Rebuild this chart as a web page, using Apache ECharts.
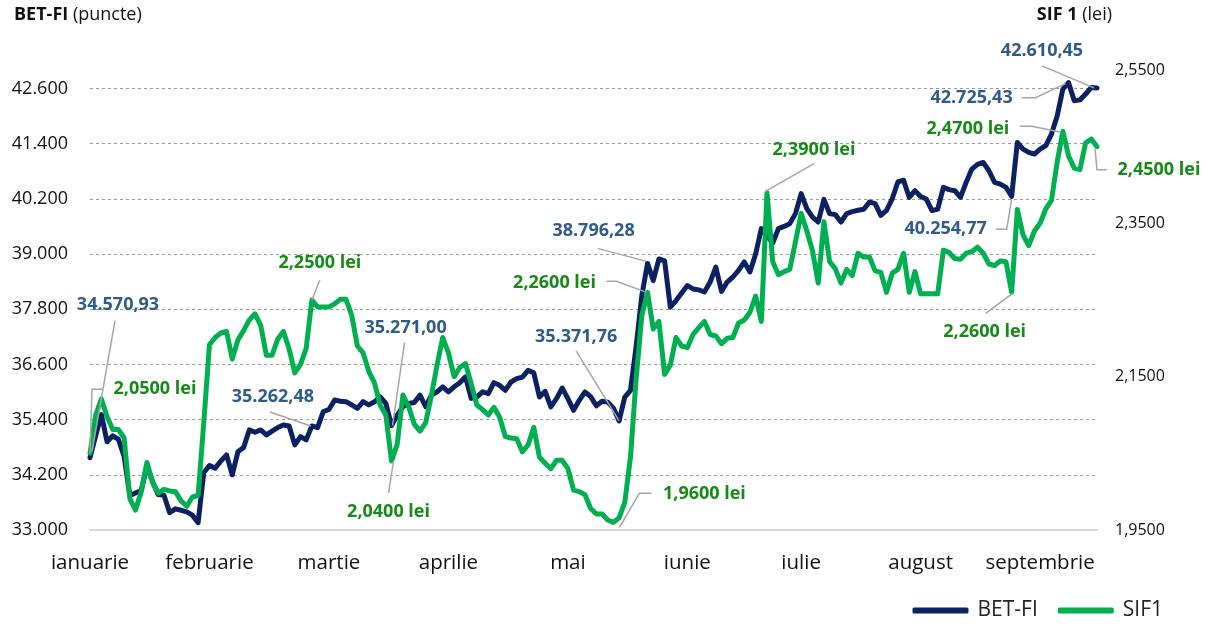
<!DOCTYPE html>
<html>
<head>
<meta charset="utf-8">
<title>BET-FI si SIF1</title>
<script src="https://cdn.jsdelivr.net/npm/echarts@6/dist/echarts.min.js"></script>
<style>
  html, body { margin: 0; padding: 0; background: #fff; }
  #chart { width: 1218px; height: 625px; }
</style>
</head>
<body>
<div id="chart"></div>
<script>
// Months on the x axis and the trading day on which each label sits
var months = ['ianuarie', 'februarie', 'martie', 'aprilie', 'mai', 'iunie', 'iulie', 'august', 'septembrie'];
var monthStart = [0, 21, 42, 63, 84, 105, 125, 146, 167];

// BET-FI (puncte), one value per trading day
var betfi = [
  34570.93, 35050, 35508, 34919, 35048, 34969, 34600, 33750, 33805, 33850,
  34400, 34050, 33769, 33754, 33374, 33460, 33430, 33395, 33323, 33158,
  34250, 34400, 34345, 34500, 34634, 34200, 34700, 34793, 35176, 35125,
  35176, 35067, 35150, 35226, 35284, 35262, 34851, 35031, 34959, 35262.48,
  35226, 35573, 35620, 35826, 35800, 35790, 35720, 35646, 35790, 35720,
  35787, 35896, 35751, 35271.00, 35498, 35679, 35751, 35770, 35932, 35679,
  35932, 36004, 36113, 36004, 36113, 36200, 36330, 35860, 35896, 36004,
  35964, 36202, 36145, 36036, 36217, 36289, 36325, 36470, 36419, 35891,
  36014, 35675, 35855, 36087, 35855, 35602, 35819, 36000, 35900, 35700,
  35800, 35780, 35650, 35371.76, 35891, 36036, 37000, 38100, 38796.28, 38422,
  38892, 38850, 37843, 37988, 38150, 38313, 38241, 38220, 38174, 38391,
  38717, 38188, 38391, 38500, 38645, 38826, 38609, 39000, 39551, 39400,
  39240, 39551, 39600, 39660, 39878, 40313, 39986, 39800, 39696, 40189,
  39878, 39856, 39696, 39878, 39920, 39950, 39972, 40131, 40095, 39841,
  39950, 40200, 40566, 40603, 40230, 40376, 40250, 40194, 39941, 39977,
  40448, 40400, 40376, 40231, 40557, 40846, 40950, 40991, 40810, 40557,
  40520, 40448, 40254.77, 41426, 41281, 41209, 41172, 41281, 41354, 41607,
  42000, 42586, 42725.43, 42332, 42350, 42477, 42622, 42610.45
];

// SIF1 (lei), same trading days
var sif1 = [
  2.050, 2.100, 2.121, 2.098, 2.081, 2.081, 2.070, 1.991, 1.976, 2.000,
  2.038, 2.012, 1.998, 2.003, 2.001, 2.000, 1.988, 1.981, 1.993, 1.995,
  2.090, 2.192, 2.201, 2.207, 2.209, 2.173, 2.198, 2.210, 2.224, 2.232,
  2.217, 2.178, 2.178, 2.199, 2.209, 2.186, 2.155, 2.166, 2.187, 2.250,
  2.241, 2.241, 2.241, 2.245, 2.251, 2.251, 2.230, 2.190, 2.181, 2.157,
  2.142, 2.113, 2.100, 2.040, 2.062, 2.126, 2.111, 2.088, 2.079, 2.090,
  2.125, 2.165, 2.201, 2.181, 2.150, 2.162, 2.167, 2.141, 2.113, 2.107,
  2.100, 2.110, 2.097, 2.072, 2.070, 2.069, 2.052, 2.061, 2.084, 2.045,
  2.037, 2.030, 2.041, 2.041, 2.030, 2.002, 2.000, 1.996, 1.978, 1.971,
  1.971, 1.963, 1.960, 1.966, 1.986, 2.045, 2.148, 2.230, 2.260, 2.212,
  2.222, 2.153, 2.165, 2.201, 2.190, 2.188, 2.205, 2.214, 2.222, 2.205,
  2.203, 2.193, 2.200, 2.201, 2.220, 2.224, 2.234, 2.255, 2.222, 2.390,
  2.300, 2.283, 2.287, 2.290, 2.326, 2.363, 2.340, 2.314, 2.272, 2.352,
  2.300, 2.291, 2.272, 2.290, 2.282, 2.311, 2.306, 2.306, 2.288, 2.286,
  2.260, 2.285, 2.290, 2.311, 2.260, 2.287, 2.258, 2.258, 2.258, 2.258,
  2.315, 2.312, 2.304, 2.303, 2.311, 2.313, 2.319, 2.311, 2.297, 2.295,
  2.301, 2.300, 2.260, 2.368, 2.335, 2.321, 2.340, 2.350, 2.369, 2.380,
  2.430, 2.470, 2.438, 2.422, 2.420, 2.455, 2.460, 2.450
];

// Trading days that get a value label
var betfiNotes = [0, 39, 53, 93, 98, 162, 172, 177];
var sif1Notes = [0, 39, 53, 92, 98, 119, 162, 171, 177];

// Where each label goes, relative to its point: text centre and leader line
var betfiNoteLayout = [
  { dx: 28, dy: -153, line: [[25, -137], [2, -6]] },
  { dx: -39, dy: -29, line: [[-42, -14], [-1, 0]] },
  { dx: 14, dy: -98, line: [[13, -83], [1, 0]] },
  { dx: -43, dy: -84, line: [[-43, -70], [0, 0]] },
  { dx: -54, dy: -32, line: [[-50, -15], [-1, -2]] },
  { dx: -66, dy: 33, line: [[-16, 33], [-5, 33], [0, 3]] },
  { dx: -97, dy: 15, line: [[-47, 15], [-33, 15], [-3, 1]] },
  { dx: -55, dy: -37, line: [[-55, -22], [-3, 0]] }
];
var sif1NoteLayout = [
  { dx: 65, dy: -64, line: [[13, -64], [2, -64], [0, 0]] },
  { dx: 8, dy: -37, line: [[8, -20], [0, 0]] },
  { dx: -3, dy: 51, line: [[-3, 32], [2, 0]] },
  { dx: 91, dy: -28, line: [[38, -29], [26, -29], [6, 5]] },
  { dx: -93, dy: -9, line: [[-41, -11], [-31, -11], [-1, 0]] },
  { dx: 47, dy: -43, line: [[47, -29], [-2, -1]] },
  { dx: -27, dy: 40, line: [[-26, 21], [1, 1]] },
  { dx: -95, dy: -2, line: [[-43, -5], [-31, -5], [-2, 1]] },
  { dx: 62, dy: 23, line: [[-2, 2], [0, 23], [10, 23]] }
];

var NAVY = '#0b2161';
var GREEN = '#00b050';
var FONT = '"Open Sans", "Noto Sans", sans-serif';

// x axis categories: month name on its first day, blank otherwise
var days = betfi.map(function (v, i) {
  var m = monthStart.indexOf(i);
  return m >= 0 ? months[m] : '';
});

function thousands(s) {
  return s.replace(/\B(?=(\d{3})+(?!\d))/g, '.');
}
function fmtBetfi(v) {
  var p = v.toFixed(2).split('.');
  return thousands(p[0]) + ',' + p[1];
}
function fmtSif(v) {
  return v.toFixed(4).replace('.', ',') + ' lei';
}

// Draws the value labels with their grey leader lines
function noteRenderer(layout, fmt, color) {
  return function (params, api) {
    var p = api.coord([api.value(0), api.value(1)]);
    var l = layout[params.dataIndex];
    var pts = l.line.map(function (d) { return [p[0] + d[0], p[1] + d[1]]; });
    return {
      type: 'group',
      children: [
        {
          type: 'polyline',
          shape: { points: pts },
          style: { stroke: '#a6a6a6', lineWidth: 1.5, fill: null }
        },
        {
          type: 'text',
          x: p[0] + l.dx,
          y: p[1] + l.dy,
          style: {
            text: fmt(api.value(1)),
            fill: color,
            font: 'bold 18px ' + FONT,
            align: 'center',
            verticalAlign: 'middle'
          }
        }
      ]
    };
  };
}

var myChart = echarts.init(document.getElementById('chart'));

var headerRich = {
  b: { fontFamily: FONT, fontSize: 18, fontWeight: 'bold', color: '#111' },
  n: { fontFamily: FONT, fontSize: 18, fontWeight: 'normal', color: '#111' }
};

var option = {
  animation: false,
  backgroundColor: '#fff',
  textStyle: { fontFamily: FONT },
  title: [
    {
      left: 14, top: 6, padding: 0,
      text: '{b|BET-FI} {n|(puncte)}',
      textStyle: { fontWeight: 'normal', fontSize: 18, rich: headerRich }
    },
    {
      right: 106, top: 6, padding: 0,
      text: '{b|SIF 1} {n|(lei)}',
      textStyle: { fontWeight: 'normal', fontSize: 18, rich: headerRich }
    }
  ],
  legend: {
    right: 55, top: 600, padding: 0,
    icon: 'roundRect',
    itemWidth: 56, itemHeight: 6, itemGap: 20,
    data: ['BET-FI', 'SIF1'],
    textStyle: { fontFamily: FONT, fontSize: 21, color: '#222', padding: [0, 0, 0, 4] }
  },
  grid: { left: 90, right: 121, top: 70, bottom: 95 },
  xAxis: {
    type: 'category',
    data: days,
    boundaryGap: false,
    axisLine: { lineStyle: { color: '#d9d9d9', width: 2 } },
    axisTick: { show: false },
    axisLabel: { interval: 0, margin: 23, fontFamily: FONT, fontSize: 20.5, color: '#111' },
    splitLine: { show: false }
  },
  yAxis: [
    {
      type: 'value',
      min: 33000, max: 43000, interval: 1200,
      axisLine: { show: false },
      axisTick: { show: false },
      axisLabel: {
        margin: 22, showMaxLabel: false, fontFamily: FONT, fontSize: 18, color: '#111',
        formatter: function (v) { return thousands(String(v)); }
      },
      splitLine: {
        show: true, showMaxLine: false,
        lineStyle: { color: '#9a9a9a', type: [3, 3], width: 1 }
      }
    },
    {
      type: 'value',
      min: 1.95, max: 2.55, interval: 0.2,
      axisLine: { show: false },
      axisTick: { show: false },
      axisLabel: {
        margin: 18, fontFamily: FONT, fontSize: 16, color: '#111',
        formatter: function (v) { return v.toFixed(4).replace('.', ','); }
      },
      splitLine: { show: false }
    }
  ],
  series: [
    {
      name: 'BET-FI',
      type: 'line',
      yAxisIndex: 0,
      data: betfi,
      symbol: 'none',
      color: NAVY,
      lineStyle: { color: NAVY, width: 5, join: 'round', cap: 'round' },
      emphasis: { disabled: true },
      z: 2
    },
    {
      name: 'SIF1',
      type: 'line',
      yAxisIndex: 1,
      data: sif1,
      symbol: 'none',
      color: GREEN,
      lineStyle: { color: GREEN, width: 5, join: 'round', cap: 'round' },
      emphasis: { disabled: true },
      z: 3
    },
    {
      type: 'custom',
      yAxisIndex: 0,
      clip: false,
      z: 4,
      encode: { x: 0, y: 1 },
      data: betfiNotes.map(function (i) { return [i, betfi[i]]; }),
      renderItem: noteRenderer(betfiNoteLayout, fmtBetfi, '#2e5b88')
    },
    {
      type: 'custom',
      yAxisIndex: 1,
      clip: false,
      z: 4,
      encode: { x: 0, y: 1 },
      data: sif1Notes.map(function (i) { return [i, sif1[i]]; }),
      renderItem: noteRenderer(sif1NoteLayout, fmtSif, '#168a16')
    }
  ]
};

myChart.setOption(option);
</script>
</body>
</html>
